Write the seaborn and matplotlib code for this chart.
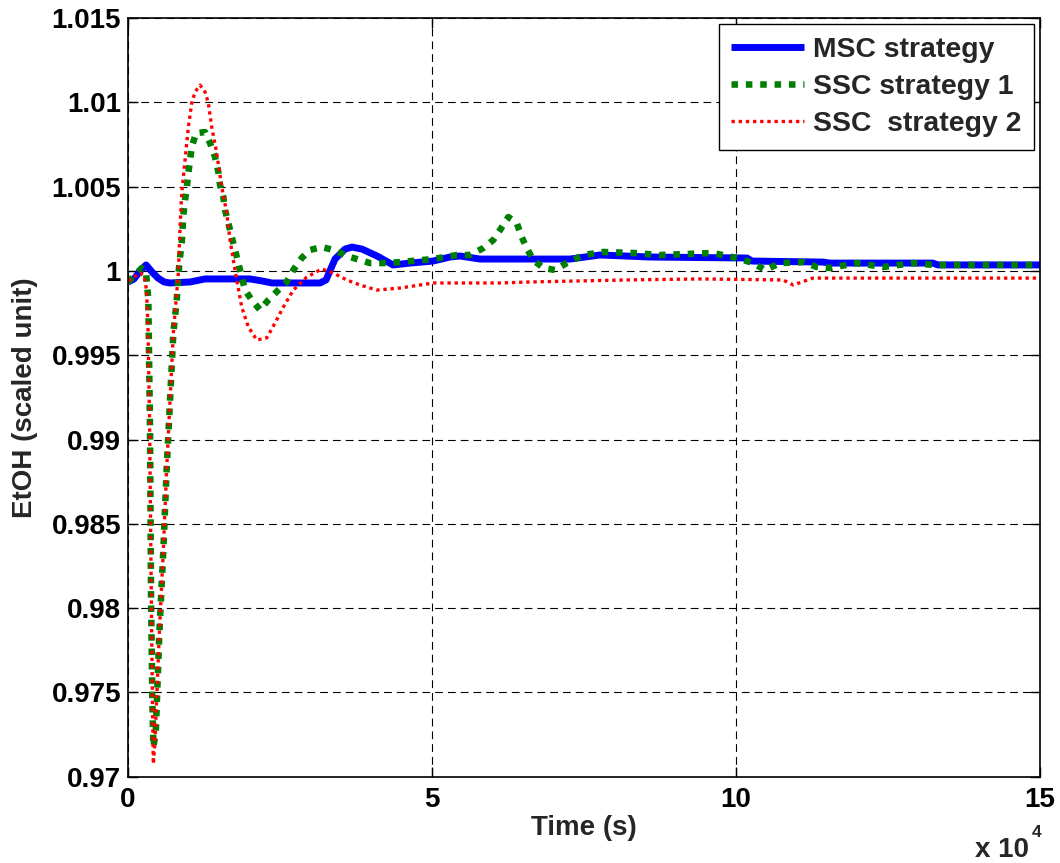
import numpy as np
import pandas as pd
import matplotlib
matplotlib.use("Agg")
import matplotlib.pyplot as plt
import seaborn as sns

# ---- data (time in seconds, EtOH in scaled units) ----
msc_t = [0, 987, 1974, 2960, 3947, 4934, 5921, 6908, 10197, 12664, 20065, 22039,
         23684, 31578, 32565, 34045, 35690, 36841, 38486, 40953, 43584, 46380,
         50163, 52959, 54604, 57893, 67762, 72696, 77630, 85853, 101807, 102629,
         114306, 115458, 132398, 133221, 150000]
msc_y = [0.99935, 0.99953, 1.0, 1.00036, 0.99994, 0.99958, 0.99935, 0.99929,
         0.99935, 0.99953, 0.99953, 0.99941, 0.99929, 0.99929, 0.99947, 1.00071,
         1.0013, 1.00142, 1.0013, 1.00089, 1.00036, 1.00047, 1.00059, 1.00083,
         1.00089, 1.00071, 1.00071, 1.00071, 1.00095, 1.00083, 1.00077, 1.00059,
         1.00053, 1.00047, 1.00047, 1.00036, 1.00036]

ssc1_t = [0, 987, 2253, 2960, 3339, 3618, 3783, 3997, 4161, 4556, 5148, 5806,
          6365, 6908, 7451, 8010, 8273, 8552, 8832, 9095, 9375, 9655, 9918,
          10197, 10477, 11184, 12664, 13487, 14309, 14852, 15131, 15674, 15954,
          16496, 17056, 17598, 18141, 18700, 19243, 20345, 21710, 23075, 24720,
          26101, 27187, 28569, 29933, 31858, 33766, 36512, 39801, 42548, 44736,
          50163, 54111, 56249, 58437, 60081, 61183, 62548, 63930, 64752, 65574,
          66660, 68305, 70229, 72154, 74884, 78174, 83108, 87500, 96217, 100115,
          102845, 104769, 107236, 111068, 113272, 115458, 119849, 124224, 129158,
          132447, 150000]
ssc1_y = [0.99935, 0.9997, 1.00018, 0.99994, 0.99828, 0.99039, 0.98049, 0.97456,
          0.97177, 0.9726, 0.97853, 0.98345, 0.98837, 0.99235, 0.99632, 0.99828,
          0.99976, 1.00083, 1.00166, 1.00332, 1.00421, 1.00492, 1.00581, 1.00658,
          1.00735, 1.00818, 1.00824, 1.00759, 1.00676, 1.00587, 1.0051, 1.00439,
          1.00362, 1.00285, 1.00202, 1.00125, 1.00047, 0.99964, 0.99887, 0.99828,
          0.99769, 0.99828, 0.99887, 0.99935, 1.00006, 1.00077, 1.00125, 1.00142,
          1.00125, 1.00083, 1.00047, 1.00047, 1.00053, 1.00071, 1.00095, 1.00095,
          1.00136, 1.00184, 1.00243, 1.0032, 1.00285, 1.00202, 1.00136, 1.00065,
          1.00018, 1.00006, 1.00047, 1.00095, 1.00113, 1.00107, 1.00095, 1.00107,
          1.00077, 1.00047, 1.00006, 1.00047, 1.00053, 1.00024, 1.00018, 1.00047,
          1.00024, 1.00047, 1.00036, 1.00036]

ssc2_t = [0, 987, 1974, 2632, 3043, 3289, 3536, 3701, 3865, 4030, 4161, 4441,
          4770, 5148, 5806, 6365, 6908, 7451, 8273, 8552, 8832, 9375, 9918,
          10477, 11019, 11842, 12664, 13207, 13766, 14589, 15411, 16234, 16776,
          17319, 17878, 18700, 19786, 21167, 22812, 24177, 25542, 27187, 29391,
          31858, 33766, 35970, 38157, 40904, 44736, 50212, 61183, 66117, 82019,
          94079, 107730, 109418, 112662, 130754, 150000]
ssc2_y = [0.99941, 0.99964, 0.99988, 0.9997, 0.99887, 0.9965, 0.99116, 0.98523,
          0.9793, 0.97396, 0.97076, 0.97218, 0.97515, 0.97853, 0.98345, 0.98837,
          0.99235, 0.99632, 0.99988, 1.00261, 1.00463, 1.00658, 1.00854, 1.00996,
          1.01062, 1.01103, 1.01062, 1.00996, 1.00854, 1.00698, 1.00498, 1.00344,
          1.00184, 1.00065, 0.99947, 0.99786, 0.99668, 0.99591, 0.99603, 0.99692,
          0.99786, 0.99887, 0.99964, 1.00012, 0.99988, 0.99947, 0.99917, 0.99887,
          0.99899, 0.99929, 0.99929, 0.99935, 0.99947, 0.99953, 0.99947, 0.99917,
          0.99958, 0.99958, 0.99958]

labels = ["MSC strategy", "SSC strategy 1", "SSC  strategy 2"]
x_ticks = [0, 50000, 100000, 150000]
x_ticklabels = ["0", "5", "10", "15"]
y_ticks = [0.97, 0.975, 0.98, 0.985, 0.99, 0.995, 1.0, 1.005, 1.01, 1.015]
y_ticklabels = ["0.97", "0.975", "0.98", "0.985", "0.99", "0.995", "1", "1.005",
                "1.01", "1.015"]

sns.set_style("white")
plt.rcParams["font.family"] = ["Liberation Sans", "DejaVu Sans"]
plt.rcParams["font.weight"] = "bold"

fig = plt.figure(figsize=(10.6, 8.63), dpi=100)
ax = fig.add_axes([0.1208, 0.0999, 0.8603, 0.8791])

series = [
    (msc_t, msc_y, labels[0], "#0000ff", 5.0, None),
    (ssc1_t, ssc1_y, labels[1], "#007f00", 4.7, (1.0, 1.2)),
    (ssc2_t, ssc2_y, labels[2], "#ff0000", 2.4, (1.0, 1.15)),
]
for t, y, lab, col, lw, dash in series:
    df = pd.DataFrame({"t": t, "y": y})
    sns.lineplot(data=df, x="t", y="y", ax=ax, color=col, linewidth=lw,
                 label=lab, estimator=None, sort=False)
    line = ax.get_lines()[-1]
    line.set_solid_capstyle("butt")
    if dash is not None:
        line.set_dashes(dash)
        line.set_dash_capstyle("butt")

ax.set_xlim(0, 150000)
ax.set_ylim(0.97, 1.015)
ax.set_xticks(x_ticks)
ax.set_xticklabels(x_ticklabels)
ax.set_yticks(y_ticks)
ax.set_yticklabels(y_ticklabels)

fs = 20
ax.tick_params(axis="both", direction="in", length=7, width=1, colors="black",
               labelsize=fs, top=True, right=True, bottom=True, left=True)
ax.tick_params(axis="x", pad=7)
ax.tick_params(axis="y", pad=5)
for lbl in ax.get_xticklabels() + ax.get_yticklabels():
    lbl.set_fontweight("bold")

ax.grid(True, color="black", linewidth=0.8, linestyle=(0, (7, 4.5)))
ax.set_axisbelow(True)
for sp in ax.spines.values():
    sp.set_color("black")
    sp.set_linewidth(1.2)
    sp.set_visible(True)

ax.set_xlabel("Time (s)", fontsize=fs, fontweight="bold", labelpad=2)
ax.set_ylabel("EtOH (scaled unit)", fontsize=fs, fontweight="bold", labelpad=10)

# axis multiplier shown below the right end of the x axis
fig.text(975 / 1060, 1 - 857 / 863, "x 10", fontsize=fs, fontweight="bold",
         ha="left", va="baseline")
fig.text(1032 / 1060, 1 - 837 / 863, "4", fontsize=12.5, fontweight="bold",
         ha="left", va="baseline")

leg = ax.legend(loc="upper right", fontsize=20.4, frameon=True, fancybox=False,
                edgecolor="black", framealpha=1, handlelength=2.55,
                handletextpad=0.34, borderaxespad=0.2, labelspacing=0.4,
                borderpad=0.45)
leg.get_frame().set_linewidth(1.0)
for txt in leg.get_texts():
    txt.set_fontweight("bold")

fig.savefig("out.png", dpi=100)
